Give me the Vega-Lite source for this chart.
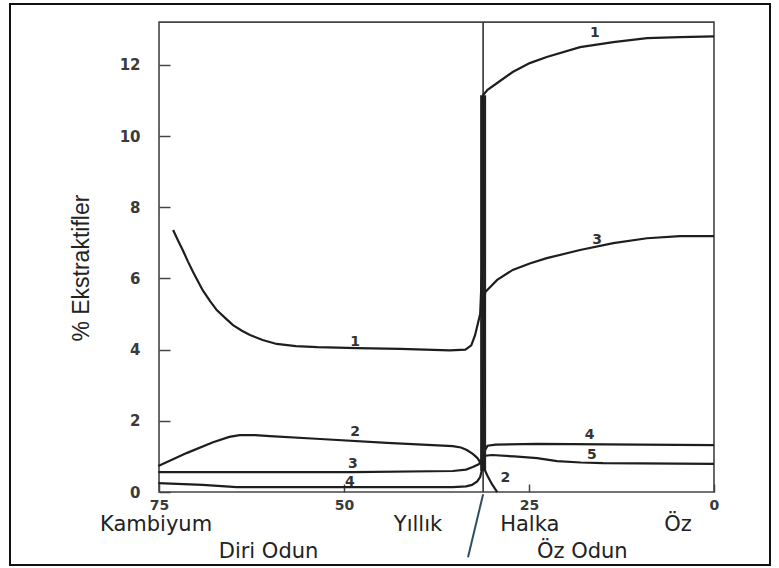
{
  "$schema": "https://vega.github.io/schema/vega-lite/v6.json",
  "width": 760,
  "height": 561,
  "autosize": {"type": "none"},
  "padding": {"left": 10, "top": 4, "right": 9, "bottom": 3},
  "background": "white",
  "config": {"view": {"stroke": "#111111", "strokeWidth": 2}},
  "datasets": {
    "frame": [{"x": 75, "x2": 0, "y": 0, "y2": 13.2}],
    "boundary": [{"x": 31.2, "y": 0, "y2": 13.2}],
    "thick": [{"x": 31.2, "y": 0.6, "y2": 11.15}],
    "below": [{"x": 31.2, "x2": 33.24, "y": -0.06, "y2": -1.83}],
    "curves": [
      {"s": "1", "i": 0, "x": 73.1, "y": 7.36},
      {"s": "1", "i": 1, "x": 72.4, "y": 7.05},
      {"s": "1", "i": 2, "x": 71.8, "y": 6.8},
      {"s": "1", "i": 3, "x": 71.1, "y": 6.48},
      {"s": "1", "i": 4, "x": 70.4, "y": 6.18},
      {"s": "1", "i": 5, "x": 69.1, "y": 5.67},
      {"s": "1", "i": 6, "x": 68.1, "y": 5.36},
      {"s": "1", "i": 7, "x": 67.2, "y": 5.11},
      {"s": "1", "i": 8, "x": 66.0, "y": 4.88},
      {"s": "1", "i": 9, "x": 65.0, "y": 4.69},
      {"s": "1", "i": 10, "x": 63.8, "y": 4.53},
      {"s": "1", "i": 11, "x": 62.7, "y": 4.41},
      {"s": "1", "i": 12, "x": 61.0, "y": 4.27},
      {"s": "1", "i": 13, "x": 59.1, "y": 4.16},
      {"s": "1", "i": 14, "x": 56.5, "y": 4.1},
      {"s": "1", "i": 15, "x": 53.6, "y": 4.07},
      {"s": "1", "i": 16, "x": 48.2, "y": 4.04},
      {"s": "1", "i": 17, "x": 42.4, "y": 4.02},
      {"s": "1", "i": 18, "x": 35.7, "y": 3.98},
      {"s": "1", "i": 19, "x": 33.6, "y": 4.0},
      {"s": "1", "i": 20, "x": 32.8, "y": 4.12},
      {"s": "1", "i": 21, "x": 32.3, "y": 4.4},
      {"s": "1", "i": 22, "x": 31.6, "y": 5.0},
      {"s": "1", "i": 23, "x": 31.3, "y": 6.5},
      {"s": "1", "i": 24, "x": 31.2, "y": 11.15},
      {"s": "1", "i": 25, "x": 30.6, "y": 11.3},
      {"s": "1", "i": 26, "x": 29.3, "y": 11.49},
      {"s": "1", "i": 27, "x": 27.2, "y": 11.8},
      {"s": "1", "i": 28, "x": 24.9, "y": 12.05},
      {"s": "1", "i": 29, "x": 22.6, "y": 12.22},
      {"s": "1", "i": 30, "x": 18.1, "y": 12.5},
      {"s": "1", "i": 31, "x": 13.6, "y": 12.64},
      {"s": "1", "i": 32, "x": 9.05, "y": 12.75},
      {"s": "1", "i": 33, "x": 4.6, "y": 12.78},
      {"s": "1", "i": 34, "x": 0, "y": 12.8},
      {"s": "2", "i": 0, "x": 75.1, "y": 0.73},
      {"s": "2", "i": 1, "x": 71.2, "y": 1.1},
      {"s": "2", "i": 2, "x": 67.7, "y": 1.4},
      {"s": "2", "i": 3, "x": 65.5, "y": 1.55},
      {"s": "2", "i": 4, "x": 64.1, "y": 1.6},
      {"s": "2", "i": 5, "x": 62.0, "y": 1.6},
      {"s": "2", "i": 6, "x": 60.0, "y": 1.57},
      {"s": "2", "i": 7, "x": 53.2, "y": 1.49},
      {"s": "2", "i": 8, "x": 44.2, "y": 1.38},
      {"s": "2", "i": 9, "x": 35.3, "y": 1.29},
      {"s": "2", "i": 10, "x": 34.2, "y": 1.25},
      {"s": "2", "i": 11, "x": 33.4, "y": 1.18},
      {"s": "2", "i": 12, "x": 32.6, "y": 1.07},
      {"s": "2", "i": 13, "x": 32.0, "y": 0.96},
      {"s": "2", "i": 14, "x": 31.2, "y": 0.72},
      {"s": "2", "i": 15, "x": 30.6, "y": 0.45},
      {"s": "2", "i": 16, "x": 30.0, "y": 0.22},
      {"s": "2", "i": 17, "x": 29.3, "y": 0.0},
      {"s": "3", "i": 0, "x": 75.1, "y": 0.56},
      {"s": "3", "i": 1, "x": 62.3, "y": 0.56},
      {"s": "3", "i": 2, "x": 48.8, "y": 0.56},
      {"s": "3", "i": 3, "x": 35.3, "y": 0.59},
      {"s": "3", "i": 4, "x": 33.5, "y": 0.63},
      {"s": "3", "i": 5, "x": 32.6, "y": 0.7},
      {"s": "3", "i": 6, "x": 31.8, "y": 0.78},
      {"s": "3", "i": 7, "x": 31.4, "y": 0.9},
      {"s": "3", "i": 8, "x": 31.2, "y": 2.5},
      {"s": "3", "i": 9, "x": 31.1, "y": 5.4},
      {"s": "3", "i": 10, "x": 30.9, "y": 5.62},
      {"s": "3", "i": 11, "x": 29.3, "y": 5.96},
      {"s": "3", "i": 12, "x": 27.2, "y": 6.24},
      {"s": "3", "i": 13, "x": 24.9, "y": 6.42},
      {"s": "3", "i": 14, "x": 22.6, "y": 6.57},
      {"s": "3", "i": 15, "x": 18.1, "y": 6.8},
      {"s": "3", "i": 16, "x": 13.6, "y": 6.99},
      {"s": "3", "i": 17, "x": 9.05, "y": 7.13},
      {"s": "3", "i": 18, "x": 4.6, "y": 7.19},
      {"s": "3", "i": 19, "x": 0, "y": 7.19},
      {"s": "4", "i": 0, "x": 75.1, "y": 0.25},
      {"s": "4", "i": 1, "x": 69.1, "y": 0.2},
      {"s": "4", "i": 2, "x": 64.5, "y": 0.14},
      {"s": "4", "i": 3, "x": 53.2, "y": 0.14},
      {"s": "4", "i": 4, "x": 35.3, "y": 0.14},
      {"s": "4", "i": 5, "x": 33.5, "y": 0.16},
      {"s": "4", "i": 6, "x": 32.7, "y": 0.2},
      {"s": "4", "i": 7, "x": 32.0, "y": 0.3},
      {"s": "4", "i": 8, "x": 31.6, "y": 0.42},
      {"s": "4", "i": 9, "x": 31.2, "y": 0.75},
      {"s": "4", "i": 10, "x": 31.0, "y": 1.15},
      {"s": "4", "i": 11, "x": 30.6, "y": 1.3},
      {"s": "4", "i": 12, "x": 29.5, "y": 1.33},
      {"s": "4", "i": 13, "x": 23.9, "y": 1.35},
      {"s": "4", "i": 14, "x": 10, "y": 1.33},
      {"s": "4", "i": 15, "x": 0, "y": 1.32},
      {"s": "5", "i": 0, "x": 31.2, "y": 0.8},
      {"s": "5", "i": 1, "x": 30.9, "y": 1.02},
      {"s": "5", "i": 2, "x": 30.0, "y": 1.04},
      {"s": "5", "i": 3, "x": 27.0, "y": 1.0},
      {"s": "5", "i": 4, "x": 23.9, "y": 0.95},
      {"s": "5", "i": 5, "x": 21.2, "y": 0.87},
      {"s": "5", "i": 6, "x": 18.0, "y": 0.83},
      {"s": "5", "i": 7, "x": 15.0, "y": 0.81},
      {"s": "5", "i": 8, "x": 0, "y": 0.79}
    ],
    "curveLabels": [
      {"t": "1", "x": 48.5, "y": 4.21},
      {"t": "1", "x": 16.1, "y": 12.9},
      {"t": "2", "x": 48.5, "y": 1.69},
      {"t": "2", "x": 28.2, "y": 0.39},
      {"t": "3", "x": 48.8, "y": 0.79},
      {"t": "3", "x": 15.8, "y": 7.08},
      {"t": "4", "x": 49.2, "y": 0.28},
      {"t": "4", "x": 16.8, "y": 1.6},
      {"t": "5", "x": 16.5, "y": 1.04}
    ],
    "captions": [
      {"t": "Kambiyum", "x": 75.4, "y": -1.1},
      {"t": "Yıllık", "x": 40.0, "y": -1.1},
      {"t": "Halka", "x": 24.9, "y": -1.1},
      {"t": "Öz", "x": 4.86, "y": -1.1},
      {"t": "Diri Odun", "x": 60.2, "y": -1.85},
      {"t": "Öz Odun", "x": 17.8, "y": -1.85}
    ],
    "ytitle": [{"t": "% Ekstraktifler", "x": 85.4, "y": 6.29}]
  },
  "encoding": {
    "x": {
      "field": "x",
      "type": "quantitative",
      "scale": {"domain": [-7.57, 95.14], "reverse": true, "nice": false, "zero": false},
      "axis": {
        "orient": "bottom",
        "offset": -73,
        "values": [75, 50, 25, 0],
        "format": "d",
        "domain": false,
        "grid": false,
        "title": null,
        "tickSize": -8,
        "tickColor": "#444444",
        "tickWidth": 1.5,
        "labelPadding": 14,
        "labelFlush": false,
        "labelOverlap": false,
        "labelBound": false,
        "labelFont": "DejaVu Sans",
        "labelFontWeight": "bold",
        "labelFontSize": 14,
        "labelColor": "#3a3a3a"
      }
    },
    "y": {
      "field": "y",
      "type": "quantitative",
      "scale": {"domain": [-2.05, 13.71], "nice": false, "zero": false},
      "axis": {
        "orient": "left",
        "offset": -149,
        "values": [0, 2, 4, 6, 8, 10, 12],
        "format": "d",
        "domain": false,
        "grid": false,
        "title": null,
        "tickSize": -11,
        "tickColor": "#444444",
        "tickWidth": 1.5,
        "labelPadding": 30,
        "labelOverlap": false,
        "labelBound": false,
        "labelFont": "DejaVu Sans",
        "labelFontWeight": "bold",
        "labelFontSize": 15,
        "labelColor": "#3a3a3a"
      }
    }
  },
  "layer": [
    {
      "data": {"name": "frame"},
      "mark": {"type": "rect", "fillOpacity": 0, "stroke": "#444444", "strokeWidth": 1.6},
      "encoding": {"x2": {"field": "x2"}, "y2": {"field": "y2"}}
    },
    {
      "data": {"name": "boundary"},
      "mark": {"type": "rule", "color": "#333333", "strokeWidth": 1.6},
      "encoding": {"y2": {"field": "y2"}}
    },
    {
      "data": {"name": "thick"},
      "mark": {"type": "rule", "color": "#222222", "strokeWidth": 6},
      "encoding": {"y2": {"field": "y2"}}
    },
    {
      "data": {"name": "below"},
      "mark": {"type": "rule", "color": "#2f4f5f", "strokeWidth": 2},
      "encoding": {"x2": {"field": "x2"}, "y2": {"field": "y2"}}
    },
    {
      "data": {"name": "curves"},
      "mark": {"type": "line", "color": "#1e1e1e", "strokeWidth": 2.2, "interpolate": "linear"},
      "encoding": {"detail": {"field": "s"}, "order": {"field": "i", "type": "quantitative"}}
    },
    {
      "data": {"name": "curveLabels"},
      "mark": {"type": "text", "font": "DejaVu Sans", "fontWeight": "bold", "fontSize": 14, "color": "#333333", "align": "center", "baseline": "middle"},
      "encoding": {"text": {"field": "t"}}
    },
    {
      "data": {"name": "captions"},
      "mark": {"type": "text", "font": "DejaVu Sans", "fontSize": 21, "color": "#222222", "align": "center", "baseline": "alphabetic"},
      "encoding": {"text": {"field": "t"}}
    },
    {
      "data": {"name": "ytitle"},
      "mark": {"type": "text", "font": "Liberation Sans", "fontSize": 23, "color": "#222222", "align": "center", "baseline": "middle", "angle": 270},
      "encoding": {"text": {"field": "t"}}
    }
  ]
}
